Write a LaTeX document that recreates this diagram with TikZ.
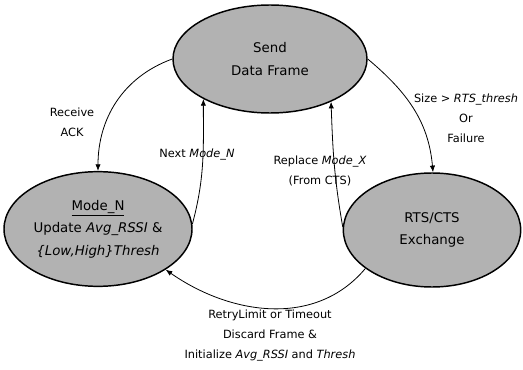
\documentclass[tikz,border=0pt]{standalone}
\usepackage{fontspec}
\setmainfont{DejaVu Sans}
\usetikzlibrary{positioning,arrows.meta,shapes.geometric}

\begin{document}
\begin{tikzpicture}[
x=0.75pt,y=-0.75pt,
state/.style={ellipse,draw=black,line width=1.1pt,fill=black!30,inner sep=0pt,
align=center,font=\fontsize{10}{17}\selectfont},
note/.style={align=center,font=\fontsize{8.5}{15}\selectfont,inner sep=1pt},
arrow/.style={-{Latex[length=5pt,width=4pt]},semithick}
]
\useasboundingbox (0,0) rectangle (523,370);
\node[state,minimum width=145.5pt,minimum height=81pt] (send) at (270,59) {Send\\Data Frame};
\node[state,minimum width=141pt,minimum height=86pt] (mode) at (98,229) {\underline{Mode\_N}\\Update \textit{Avg\_RSSI} \&\\\textit{\{Low,High\}Thresh}};
\node[state,minimum width=133pt,minimum height=85.5pt] (rts) at (432,230) {RTS/CTS\\Exchange};
\node[note] (ack) at (72,122) {Receive\\ACK};
\node[note] (next) at (197,155) {Next \textit{Mode\_N}};
\node[note] (size) at (466,118) {Size > \textit{RTS\_thresh}\\Or\\Failure};
\node[note] (replace) at (320,171) {Replace \textit{Mode\_X}\\(From CTS)};
\node[note] (retry) at (270,336) {RetryLimit or Timeout\\Discard Frame \&\\Initialize \textit{Avg\_RSSI} and \textit{Thresh}};
\draw[arrow] (send.180) to[out=200,in=90] (mode.90);
\draw[arrow] (mode.3) to[out=75,in=-90] (send.211);
\draw[arrow] (send.0) to[out=-40,in=95] (rts.89);
\draw[arrow] (rts.178) to[out=100,in=-88] (send.325);
\draw[arrow] (rts.210) to[out=-130,in=-35] (mode.-31);
\end{tikzpicture}
\end{document}
